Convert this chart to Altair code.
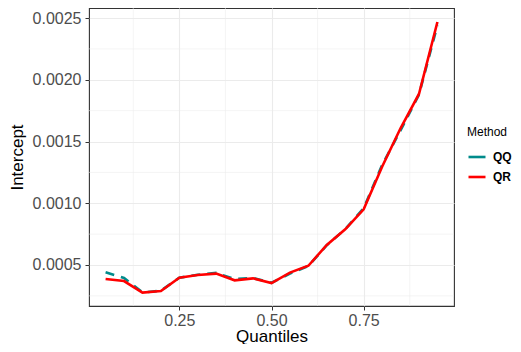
import altair as alt
import pandas as pd

quantiles = [0.05, 0.10, 0.15, 0.20, 0.25, 0.30, 0.35, 0.40, 0.45, 0.50,
             0.55, 0.60, 0.65, 0.70, 0.75, 0.80, 0.85, 0.90, 0.95]
qq_values = [0.000441, 0.000395, 0.000278, 0.000292, 0.000397, 0.000421, 0.000436, 0.000386, 0.000394, 0.000356,
             0.000430, 0.000492, 0.000660, 0.000790, 0.000960, 0.001310, 0.001590, 0.001880, 0.002440]
qr_values = [0.000387, 0.000370, 0.000276, 0.000290, 0.000397, 0.000419, 0.000430, 0.000376, 0.000392, 0.000354,
             0.000438, 0.000494, 0.000662, 0.000789, 0.000951, 0.001296, 0.001607, 0.001885, 0.002468]
methods = ["QQ", "QR"]
colors = ["#008B8B", "#FF0000"]
x_ticks = [0.25, 0.50, 0.75]
x_minor = [0.125, 0.375, 0.625, 0.875]
y_ticks = [0.0005, 0.0010, 0.0015, 0.0020, 0.0025]
y_minor = [0.00025, 0.00075, 0.00125, 0.00175, 0.00225]

x_dom = [0.005, 0.995]
y_dom = [0.000168, 0.002581]

df = pd.DataFrame({
    "Quantiles": quantiles * 2,
    "Intercept": qq_values + qr_values,
    "Method": ["QQ"] * len(quantiles) + ["QR"] * len(quantiles),
})
xminor_df = pd.DataFrame({"Quantiles": x_minor})
yminor_df = pd.DataFrame({"Intercept": y_minor})

xs = alt.Scale(domain=x_dom, nice=False, zero=False)
ys = alt.Scale(domain=y_dom, nice=False, zero=False)

x_axis = alt.Axis(values=x_ticks, format=".2f", title="Quantiles", grid=True,
                  gridColor="#EBEBEB", gridWidth=1.1, domain=False,
                  tickColor="#333333", tickSize=4, labelPadding=2,
                  labelColor="#4D4D4D", labelFontSize=16, titleFontSize=17,
                  titleColor="#000000", titleFontWeight="normal",
                  titleBaseline="alphabetic", titleY=35)
y_axis = alt.Axis(values=y_ticks, format=".4f", title="Intercept", grid=True,
                  gridColor="#EBEBEB", gridWidth=1.1, domain=False,
                  tickColor="#333333", tickSize=4, labelPadding=4,
                  labelColor="#4D4D4D", labelFontSize=16, titleFontSize=17,
                  titleColor="#000000", titleFontWeight="normal",
                  titleBaseline="middle", titleX=-72)

minor_x = alt.Chart(xminor_df).mark_rule(color="#EBEBEB", strokeWidth=0.55).encode(
    x=alt.X("Quantiles:Q", scale=xs, axis=x_axis))
minor_y = alt.Chart(yminor_df).mark_rule(color="#EBEBEB", strokeWidth=0.55).encode(
    y=alt.Y("Intercept:Q", scale=ys, axis=y_axis))

base = alt.Chart(df).encode(
    x=alt.X("Quantiles:Q", scale=xs, axis=x_axis),
    y=alt.Y("Intercept:Q", scale=ys, axis=y_axis),
    color=alt.Color("Method:N", scale=alt.Scale(domain=methods, range=colors),
                    legend=alt.Legend(title="Method", orient="none", legendX=378, legendY=119,
                                      symbolType="stroke", symbolSize=289, symbolStrokeWidth=2.6,
                                      labelFontSize=12, labelFontWeight="bold", labelColor="#000000",
                                      titleFontSize=12, titleFontWeight="normal", titleColor="#000000",
                                      titlePadding=8, rowPadding=4, labelOffset=6, padding=0)),
)

qq_line = base.transform_filter(alt.datum.Method == "QQ").mark_line(
    strokeWidth=2.6, strokeDash=[9, 7])
qr_line = base.transform_filter(alt.datum.Method == "QR").mark_line(strokeWidth=2.6)

chart = alt.layer(minor_x, minor_y, qq_line, qr_line).properties(
    width=365, height=298,
    autosize=alt.AutoSizeParams(type="none"),
    padding={"left": 81, "top": 0, "right": 59, "bottom": 38},
).configure(font="Liberation Sans").configure_view(stroke="#333333", strokeWidth=1.1)

chart.save("out.html", embed_options={"renderer": "svg", "actions": False})
